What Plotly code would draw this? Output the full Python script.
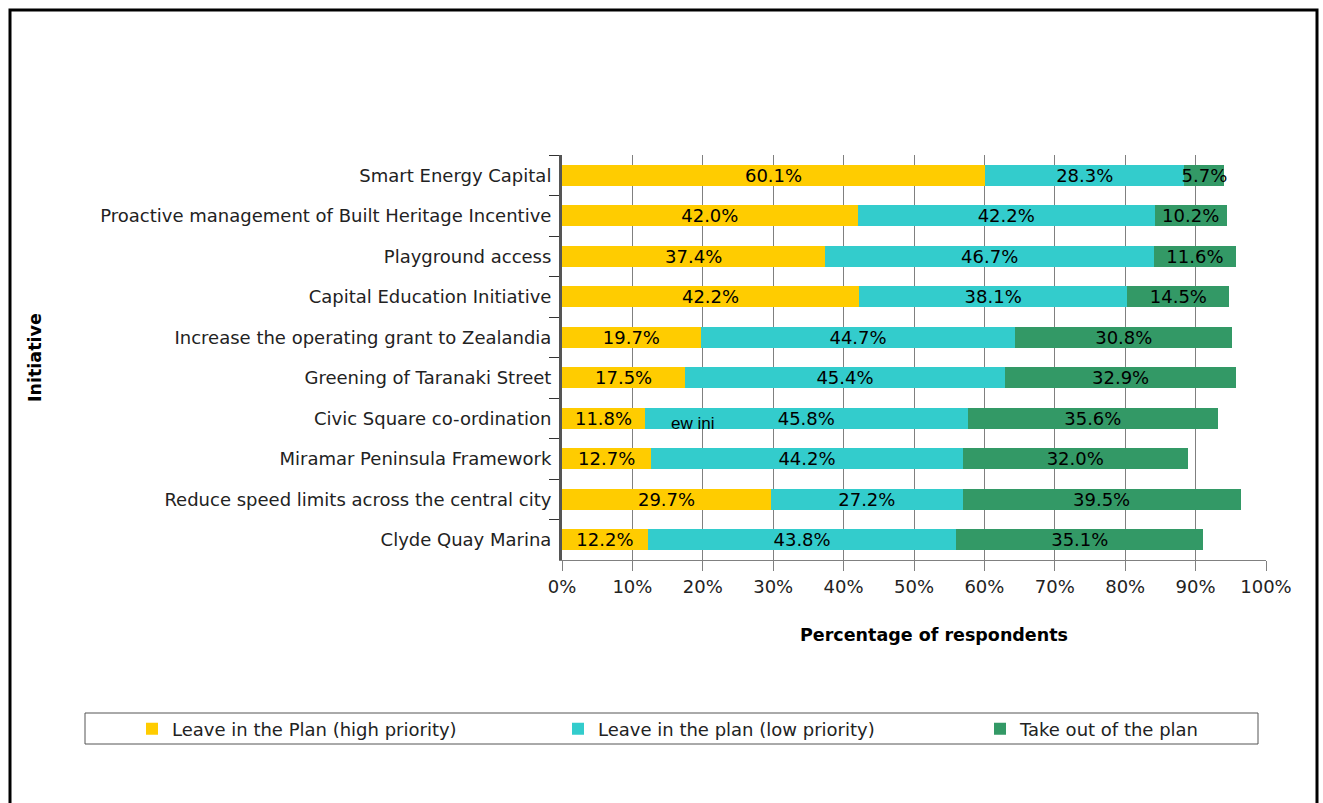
import plotly.graph_objects as go

initiatives = [
    "Smart Energy Capital",
    "Proactive management of Built Heritage Incentive",
    "Playground access",
    "Capital Education Initiative",
    "Increase the operating grant to Zealandia",
    "Greening of Taranaki Street",
    "Civic Square co-ordination",
    "Miramar Peninsula Framework",
    "Reduce speed limits across the central city",
    "Clyde Quay Marina",
]
high_priority = [60.1, 42.0, 37.4, 42.2, 19.7, 17.5, 11.8, 12.7, 29.7, 12.2]
low_priority = [28.3, 42.2, 46.7, 38.1, 44.7, 45.4, 45.8, 44.2, 27.2, 43.8]
take_out = [5.7, 10.2, 11.6, 14.5, 30.8, 32.9, 35.6, 32.0, 39.5, 35.1]
x_tick_vals = [0, 10, 20, 30, 40, 50, 60, 70, 80, 90, 100]
x_tick_labels = ["0%", "10%", "20%", "30%", "40%", "50%", "60%", "70%", "80%", "90%", "100%"]

series_names = ["Leave in the Plan (high priority)", "Leave in the plan (low priority)", "Take out of the plan"]
series_values = [high_priority, low_priority, take_out]
series_colors = ["#FFCC00", "#33CCCC", "#339966"]
legend_ids = ["legend", "legend2", "legend3"]

FONT = "DejaVu Sans"
W, H = 1323, 803
ML, MR, MT, MB = 562, 57, 155, 243
PW = W - ML - MR
PH = H - MT - MB


def px(x):
    return (x - ML) / PW


def py(y):
    return (H - MB - y) / PH


fig = go.Figure()
for name, vals, color, lg in zip(series_names, series_values, series_colors, legend_ids):
    fig.add_trace(go.Bar(
        y=initiatives, x=vals, name=name, orientation="h",
        marker=dict(color=color, line=dict(width=0)),
        text=[f"{v:.1f}%" for v in vals],
        textposition="inside", insidetextanchor="middle",
        textfont=dict(family=FONT, size=18, color="black"),
        hoverinfo="skip", legend=lg,
    ))

legend_left = [132, 558, 980]


def legend_cfg(xpix):
    return dict(
        orientation="h", xref="container", yref="container",
        x=xpix / W, y=1 - 729 / H, xanchor="left", yanchor="middle",
        itemwidth=30,
        font=dict(family=FONT, size=18, color="#222"),
        bgcolor="rgba(0,0,0,0)", borderwidth=0,
    )


fig.update_layout(
    width=W, height=H,
    margin=dict(l=ML, r=MR, t=MT, b=MB, pad=0),
    barmode="stack", bargap=0.48,
    plot_bgcolor="white", paper_bgcolor="white",
    font=dict(family=FONT, size=18, color="black"),
    uniformtext=dict(minsize=18, mode="show"),
    xaxis=dict(
        range=[0, 100], tickmode="array", tickvals=x_tick_vals, ticktext=x_tick_labels,
        showgrid=True, gridcolor="#808080", gridwidth=1,
        showline=True, linecolor="#808080", linewidth=1,
        ticks="outside", ticklen=10, tickcolor="#808080",
        tickfont=dict(family=FONT, size=18, color="#222"),
        zeroline=False, fixedrange=True,
    ),
    yaxis=dict(
        autorange="reversed", tickson="boundaries",
        showline=True, linecolor="#555555", linewidth=3,
        ticks="outside", ticklen=10, tickcolor="#333333",
        tickfont=dict(family=FONT, size=18, color="#222"),
        ticklabelstandoff=4,
        showgrid=False, fixedrange=True,
    ),
    showlegend=True,
    legend=legend_cfg(legend_left[0]),
    legend2=legend_cfg(legend_left[1]),
    legend3=legend_cfg(legend_left[2]),
    shapes=[
        dict(type="rect", xref="paper", yref="paper",
             x0=px(85), x1=px(1258), y0=py(744), y1=py(713),
             line=dict(color="#555555", width=1), fillcolor="rgba(0,0,0,0)"),
        dict(type="rect", xref="paper", yref="paper",
             x0=px(10), x1=px(1317), y0=py(830), y1=py(10),
             line=dict(color="black", width=3), fillcolor="rgba(0,0,0,0)"),
    ],
    annotations=[
        dict(text="<b>Percentage of respondents</b>", xref="paper", yref="paper",
             x=px(934), y=py(635), showarrow=False,
             font=dict(family=FONT, size=17.5, color="black"),
             xanchor="center", yanchor="middle"),
        dict(text="<b>Initiative</b>", xref="paper", yref="paper",
             x=px(35), y=py(358), showarrow=False, textangle=-90,
             font=dict(family=FONT, size=17.5, color="black"),
             xanchor="center", yanchor="middle"),
        dict(text="ew ini", xref="x", yref="y",
             x=18.5, y="Civic Square co-ordination", yshift=-5, showarrow=False,
             font=dict(family="Liberation Sans", size=17, color="black"),
             xanchor="center", yanchor="middle"),
    ],
)

fig.write_html("out.html")
